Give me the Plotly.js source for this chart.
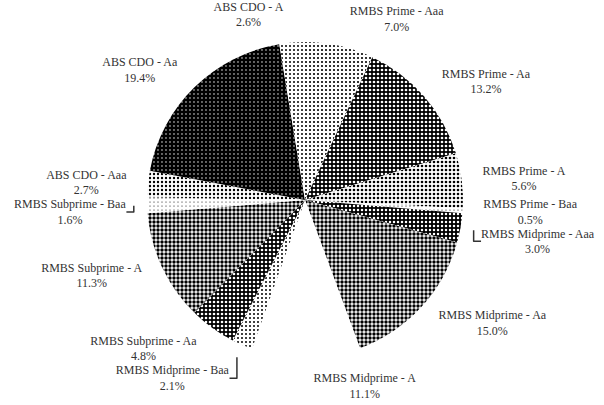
<!DOCTYPE html>
<html>
<head>
<meta charset="utf-8">
<script src="https://cdn.plot.ly/plotly-3.0.1.min.js"></script>
<style>html,body{margin:0;padding:0;background:#fff;}#chart{width:604px;height:405px;}</style>
</head>
<body>
<div id="chart"></div>
<script>
const categories = [
  "RMBS Prime - Aaa", "RMBS Prime - Aa", "RMBS Prime - A", "RMBS Prime - Baa",
  "RMBS Midprime - Aaa", "RMBS Midprime - Aa", "RMBS Midprime - A", "RMBS Midprime - Baa",
  "RMBS Subprime - Aa", "RMBS Subprime - A", "RMBS Subprime - Baa",
  "ABS CDO - Aaa", "ABS CDO - Aa", "ABS CDO - A"
];
const shares = [7.0, 13.2, 5.6, 0.5, 3.0, 15.0, 11.1, 2.1, 4.8, 11.3, 1.6, 2.7, 19.4, 2.6];

// dot density per slice (0 = white, 1 = black)
const density = [0.22, 0.64, 0.33, 0.07, 0.7, 0.58, 0.0, 0.2, 0.66, 0.58, 0.06, 0.27, 0.9, 0.2];

const fg = [], bg = [], sol = [];
density.forEach(d => {
  if (d > 0.6) { fg.push('#ffffff'); bg.push('#000000'); sol.push(Math.max(0.05, 1 - d)); }
  else if (d === 0) { fg.push('#ffffff'); bg.push('#ffffff'); sol.push(0.3); }
  else { fg.push('#000000'); bg.push('#ffffff'); sol.push(d); }
});

const labelFont = {family: 'Liberation Serif, DejaVu Serif, serif', size: 12, color: '#333'};

const pieSlices = {
  type: 'pie',
  labels: categories,
  values: shares,
  sort: false,
  direction: 'clockwise',
  rotation: 0,
  textinfo: 'none',
  hoverinfo: 'label+value',
  marker: {
    line: {width: 0, color: '#fff'},
    pattern: {shape: '.', fgcolor: fg, bgcolor: bg, solidity: sol, size: 4, fillmode: 'replace'}
  },
  domain: {x: [0.2, 0.81], y: [0.116, 0.896]},
  showlegend: false
};

// same data on a slightly wider ring, invisible, to carry the outside labels
const pieLabels = {
  type: 'pie',
  labels: categories,
  values: shares,
  sort: false,
  direction: 'clockwise',
  rotation: 0,
  textposition: 'outside',
  texttemplate: '%{label}<br>%{value:.1f}%',
  outsidetextfont: labelFont,
  textfont: labelFont,
  hoverinfo: 'skip',
  marker: {colors: categories.map(() => 'rgba(0,0,0,0)'), line: {width: 0}},
  domain: {x: [0.2, 0.81], y: [0.083, 0.929]},
  showlegend: false
};

Plotly.newPlot('chart', [pieSlices, pieLabels], {
  width: 604, height: 405,
  margin: {l: 0, r: 0, t: 0, b: 0},
  paper_bgcolor: '#fff',
  showlegend: false
}, {staticPlot: true});
</script>
</body>
</html>
